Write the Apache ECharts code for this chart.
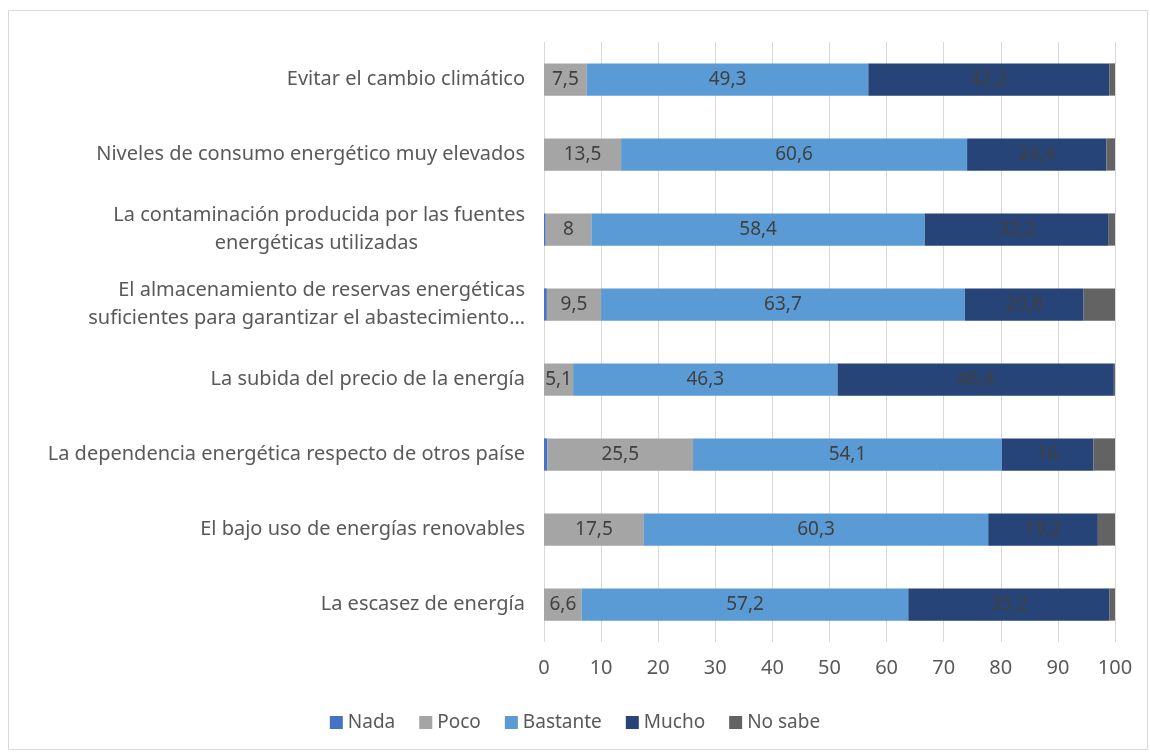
<!DOCTYPE html>
<html><head><meta charset="utf-8">
<script src="https://cdn.jsdelivr.net/npm/echarts@6/dist/echarts.min.js"></script>
<style>html,body{margin:0;padding:0;background:#fff}#c{width:1150px;height:752px}</style>
</head><body><div id="c"></div>
<script>
const categories = [
  "Evitar el cambio climático",
  "Niveles de consumo energético muy elevados",
  "La contaminación producida por las fuentes\nenergéticas utilizadas",
  "El almacenamiento de reservas energéticas\nsuficientes para garantizar el abastecimiento…",
  "La subida del precio de la energía",
  "La dependencia energética respecto de otros paíse",
  "El bajo uso de energías renovables",
  "La escasez de energía"
];
const seriesNames = ["Nada", "Poco", "Bastante", "Mucho", "No sabe"];
const nada    = [0, 0, 0.3, 0.5, 0, 0.6, 0, 0];
const poco    = [7.5, 13.5, 8, 9.5, 5.1, 25.5, 17.5, 6.6];
const bastante= [49.3, 60.6, 58.4, 63.7, 46.3, 54.1, 60.3, 57.2];
const mucho   = [42.2, 24.4, 32.2, 20.8, 48.4, 16, 19.2, 35.2];
const noSabe  = [1.0, 1.5, 1.1, 5.5, 0.2, 3.8, 3.0, 1.0];
const xTicks = [0, 10, 20, 30, 40, 50, 60, 70, 80, 90, 100];

const colors = ["#4472C4", "#A5A5A5", "#5B9BD5", "#264478", "#636363"];
const values = [nada, poco, bastante, mucho, noSabe];
const showLabel = [false, true, true, true, false];
const FONT = "Noto Sans";

const chart = echarts.init(document.getElementById('c'), null, {renderer: 'canvas'});
chart.setOption({
  animation: false,
  textStyle: {fontFamily: FONT},
  graphic: [{type: 'rect', shape: {x: 8.5, y: 10.5, width: 1139, height: 739},
    style: {fill: 'none', stroke: '#d9d9d9', lineWidth: 1}}],
  grid: {left: 544, right: 35, top: 42, bottom: 110, containLabel: false},
  legend: {
    top: 708, left: 'center', itemWidth: 13, itemHeight: 13, itemGap: 24,
    icon: 'rect',
    textStyle: {fontSize: 19, color: '#595959', fontFamily: FONT},
    data: seriesNames
  },
  xAxis: {
    type: 'value', min: 0, max: 100, interval: 10,
    axisLine: {show: false}, axisTick: {show: false},
    splitLine: {show: true, lineStyle: {color: '#d9d9d9', width: 1}},
    axisLabel: {fontSize: 20, color: '#595959', margin: 16, fontFamily: FONT,
      formatter: v => xTicks.includes(v) ? String(v) : ''}
  },
  yAxis: {
    type: 'category', data: categories, inverse: true,
    axisLine: {show: false}, axisTick: {show: false},
    axisLabel: {fontSize: 20, color: '#595959', margin: 19, fontFamily: FONT, lineHeight: 28,
      formatter: function (v) {
        if (v.indexOf('\n') >= 0 && v.indexOf('contaminación') >= 0) {
          const p = v.split('\n');
          return '{a|' + p[0] + '}\n{b|' + p[1] + '}';
        }
        return v;
      },
      rich: {
        a: {fontSize: 20, color: '#595959', fontFamily: FONT, lineHeight: 28},
        b: {fontSize: 20, color: '#595959', fontFamily: FONT, lineHeight: 28, padding: [0, 107, 0, 0]}
      }
    }
  },
  series: seriesNames.map((n, i) => ({
    name: n, type: 'bar', stack: 'total', barWidth: '43%',
    data: values[i],
    itemStyle: {color: colors[i]},
    label: {show: showLabel[i], position: 'inside', color: '#404040', fontSize: 19, fontFamily: FONT,
      formatter: p => String(p.value).replace('.', ',')}
  }))
});
</script></body></html>
